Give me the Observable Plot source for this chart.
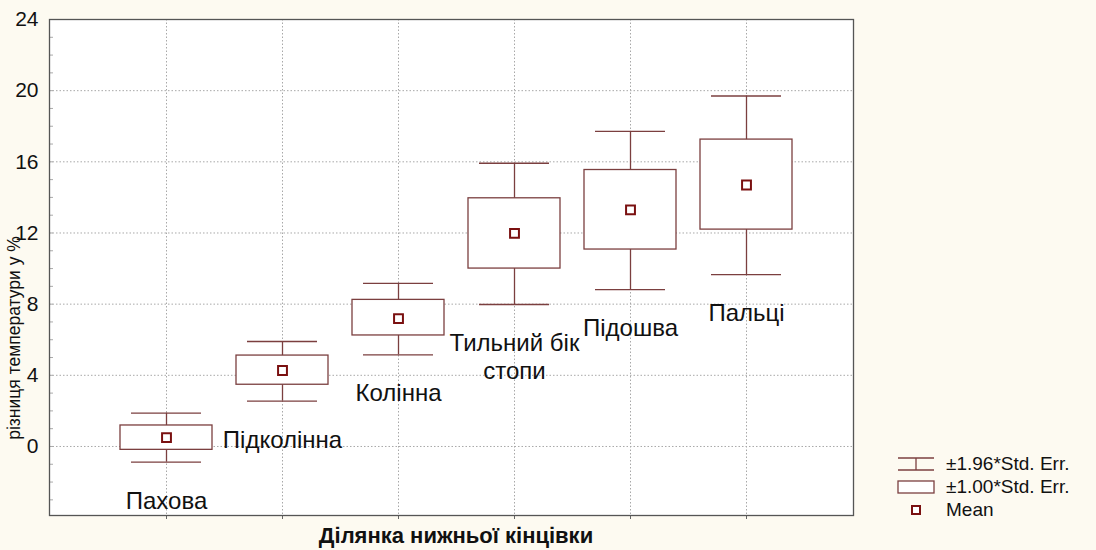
<!DOCTYPE html>
<html><head><meta charset="utf-8">
<script src="https://cdn.jsdelivr.net/npm/d3@7"></script>
<script src="https://cdn.jsdelivr.net/npm/@observablehq/plot@0.6"></script>
<style>
body{margin:0;background:#fdfaf1;font-family:Arial,"Liberation Sans",sans-serif;}
#wrap{position:relative;width:1096px;height:550px;overflow:hidden;}
#wrap > svg{position:absolute;left:0;top:0;}
.ytitle{position:absolute;left:15px;top:338px;transform:translate(-50%,-50%) rotate(-90deg);white-space:nowrap;font-size:17.5px;color:#111;line-height:1;}
.xtitle{position:absolute;left:456px;top:536px;transform:translate(-50%,-50%);white-space:nowrap;font-size:22px;font-weight:bold;color:#111;line-height:1;}
.legend{position:absolute;left:897px;top:452px;font-size:19px;color:#111;}
.legend .row{display:flex;align-items:center;height:23px;}
.legend .row svg{display:block;margin-right:11px;}
</style></head><body><div id="wrap"></div>
<script>
const categories = ["Пахова","Підколінна","Колінна","Тильний бік стопи","Підошва","Пальці"];
const labels = ["Пахова","Підколінна","Колінна","Тильний бік\nстопи","Підошва","Пальці"];
const means = [0.5, 4.27, 7.19, 11.98, 13.3, 14.7];
const se1Low = [-0.19, 3.47, 6.24, 10.0, 11.07, 12.19];
const se1High = [1.18, 5.11, 8.24, 13.95, 15.54, 17.25];
const se196Low = [-0.88, 2.55, 5.15, 7.98, 8.82, 9.66];
const se196High = [1.87, 5.9, 9.17, 15.92, 17.71, 19.7];
const yTicks = [0, 4, 8, 12, 16, 20, 24];
const yMinor = d3.range(-3, 25, 1);
const legendItems = ["±1.96*Std. Err.", "±1.00*Std. Err.", "Mean"];
const yTitle = "різниця температури у %";
const xTitle = "Ділянка нижньої кінцівки";

const rows = categories.map((c, i) => ({
  cat: c, label: labels[i], mean: means[i],
  lo1: se1Low[i], hi1: se1High[i], lo196: se196Low[i], hi196: se196High[i]
}));

const lineColor = "#7b3f3f";
const meanColor = "#7a1010";
const gridStyle = {stroke: "#a8a8a8", strokeOpacity: 1, strokeDasharray: "1.5,2"};

const chart = Plot.plot({
  width: 1096, height: 550,
  marginLeft: 49, marginRight: 243, marginTop: 19, marginBottom: 35,
  style: {background: "transparent", fontFamily: "Arial, 'Liberation Sans', sans-serif", color: "#111"},
  x: {type: "band", domain: categories, paddingInner: 0.207, paddingOuter: 0.569, align: 0.538, label: null},
  y: {domain: [-3.88, 24], label: null},
  marks: [
    Plot.frame({fill: "white", stroke: null}),
    Plot.gridY(yTicks, gridStyle),
    Plot.gridX(gridStyle),
    Plot.axisY(yMinor, {tickSize: 4, dx: 4, tickFormat: () => "", stroke: "#aaa", label: null}),
    Plot.axisY(yTicks, {tickSize: 0, tickPadding: 11, fontSize: 21, label: null}),
    Plot.axisX({tickSize: 4, tickFormat: () => "", label: null, stroke: "#666"}),
    Plot.ruleX(rows, {x: "cat", y1: "lo196", y2: "hi196", stroke: lineColor, strokeWidth: 1.3}),
    Plot.tickY(rows, {x: "cat", y: "lo196", stroke: lineColor, strokeWidth: 1.3, insetLeft: 11, insetRight: 11}),
    Plot.tickY(rows, {x: "cat", y: "hi196", stroke: lineColor, strokeWidth: 1.3, insetLeft: 11, insetRight: 11}),
    Plot.barY(rows, {x: "cat", y1: "lo1", y2: "hi1", fill: "white", stroke: lineColor, strokeWidth: 1.3}),
    Plot.dot(rows, {x: "cat", y: "mean", symbol: "square", r: 5, stroke: meanColor, strokeWidth: 2, fill: "white"}),
    Plot.text(rows, {x: "cat", y: "lo196", text: "label", dy: 27, lineAnchor: "top", fontSize: 24, fill: "#111", lineHeight: 1.15}),
    Plot.frame({stroke: "#555", strokeWidth: 1.3})
  ]
});

const wrap = document.getElementById("wrap");
wrap.appendChild(chart);

const yt = document.createElement("div");
yt.className = "ytitle"; yt.textContent = yTitle; wrap.appendChild(yt);
const xt = document.createElement("div");
xt.className = "xtitle"; xt.textContent = xTitle; wrap.appendChild(xt);

const icons = [
  `<svg width="38" height="22"><line x1="1" y1="5" x2="37" y2="5" stroke="${lineColor}" stroke-width="1.3"/><line x1="19" y1="5" x2="19" y2="17" stroke="${lineColor}" stroke-width="1.3"/><line x1="1" y1="17" x2="37" y2="17" stroke="${lineColor}" stroke-width="1.3"/></svg>`,
  `<svg width="38" height="22"><rect x="1" y="5" width="36" height="12" fill="white" stroke="${lineColor}" stroke-width="1.3"/></svg>`,
  `<svg width="38" height="22"><rect x="15" y="7" width="8" height="8" fill="white" stroke="${meanColor}" stroke-width="2"/></svg>`
];
const lg = document.createElement("div");
lg.className = "legend";
lg.innerHTML = legendItems.map((t, i) => `<div class="row">${icons[i]}<span>${t}</span></div>`).join("");
wrap.appendChild(lg);
</script>
</body></html>
